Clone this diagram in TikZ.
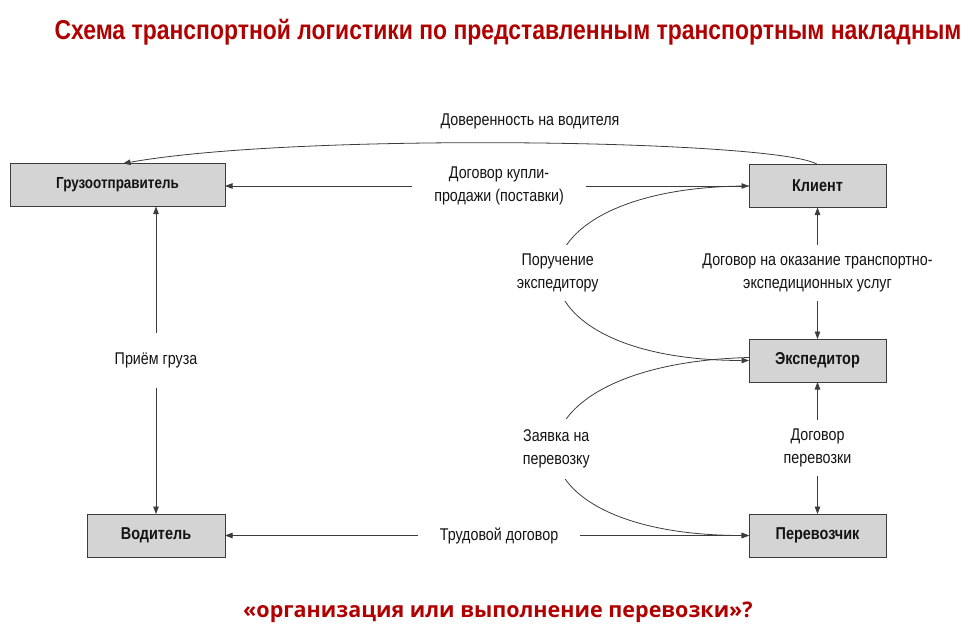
\documentclass[tikz,border=0pt]{standalone}
\usepackage{fontspec}
\setmainfont[FakeStretch=0.84]{Liberation Sans}
\newfontfamily\bottomfont{Open Sans}
\usetikzlibrary{arrows.meta}
\definecolor{titlered}{RGB}{176,0,0}
\definecolor{boxgray}{RGB}{212,212,212}
\definecolor{linegray}{RGB}{60,60,60}
\definecolor{txt}{RGB}{20,20,20}
\begin{document}
\begin{tikzpicture}[x=1pt,y=-1pt,
  box/.style={draw=linegray, fill=boxgray, line width=1pt, minimum height=43pt,
    outer sep=0pt, font=\fontsize{17.2}{19}\selectfont\bfseries, text=txt},
  conn/.style={draw=linegray, line width=0.8pt, -{Triangle[length=7.5pt,width=5.5pt]}},
  biconn/.style={conn, {Triangle[length=7.5pt,width=5.5pt]}-{Triangle[length=7.5pt,width=5.5pt]}},
  lbl/.style={fill=white, font=\fontsize{17}{23}\selectfont, align=center, text=txt, inner xsep=20pt, inner ysep=8pt}
]
\useasboundingbox (0,0) rectangle (974,634);

\node[font=\fontsize{27.3}{30}\selectfont\bfseries, text=titlered] (title) at (508,32)
  {Схема транспортной логистики по представленным транспортным накладным};

\node[box, minimum width=215pt, font=\fontsize{16}{19}\selectfont\bfseries] (gruz) at (117.5,185) {Грузоотправитель};
\node[box, minimum width=137pt] (klient) at (817.5,186) {Клиент};
\node[box, minimum width=137pt] (exp) at (817.5,360.5) {Экспедитор};
\node[box, minimum width=137pt] (perev) at (817.5,535.5) {Перевозчик};
\node[box, minimum width=138pt] (vod) at (156,535.5) {Водитель};

% Доверенность на водителя
\draw[conn] (klient.north) .. controls (780,140) and (300,132) .. ([xshift=5.5pt]gruz.north);
\node[font=\fontsize{17}{20}\selectfont, text=txt] (dov) at (530,121) {Доверенность на водителя};

% Договор купли-продажи
\draw[biconn] (gruz.east |- klient.west) -- node[lbl, pos=0.523, inner xsep=22pt] (kupl) {Договор купли-\\продажи (поставки)} (klient.west);

% Поручение экспедитору
\draw[conn] (klient.west) .. controls (494,186) and (494,360.5) .. node[lbl, inner xsep=4pt, inner ysep=9pt] (poruch) {Поручение\\экспедитору} (exp.west);

% Заявка на перевозку
\draw[conn] ([yshift=3pt]exp.west) .. controls (492,364) and (492,535.5) .. node[lbl, inner xsep=4pt, inner ysep=11pt] (zayav) {Заявка на\\перевозку} (perev.west);

% Договор на оказание
\draw[biconn] (klient.south) -- node[lbl, inner ysep=9pt] (okaz) {Договор на оказание транспортно-\\экспедиционных услуг} (exp.north);

% Договор перевозки
\draw[biconn] (exp.south) -- node[lbl, inner ysep=9pt] (perevd) {Договор\\перевозки} (perev.north);

% Приём груза
\draw[biconn] (gruz.south -| vod.north) -- node[lbl, inner ysep=20pt] (priem) {Приём груза} (vod.north);

% Трудовой договор
\draw[biconn] (vod.east) -- node[lbl, pos=0.523, inner xsep=22pt] (trud) {Трудовой договор} (perev.west);

\node[font=\fontsize{21.5}{26}\selectfont\bottomfont\bfseries, text=titlered] (bottom) at (498,612)
  {«организация или выполнение перевозки»?};
\end{tikzpicture}
\end{document}
